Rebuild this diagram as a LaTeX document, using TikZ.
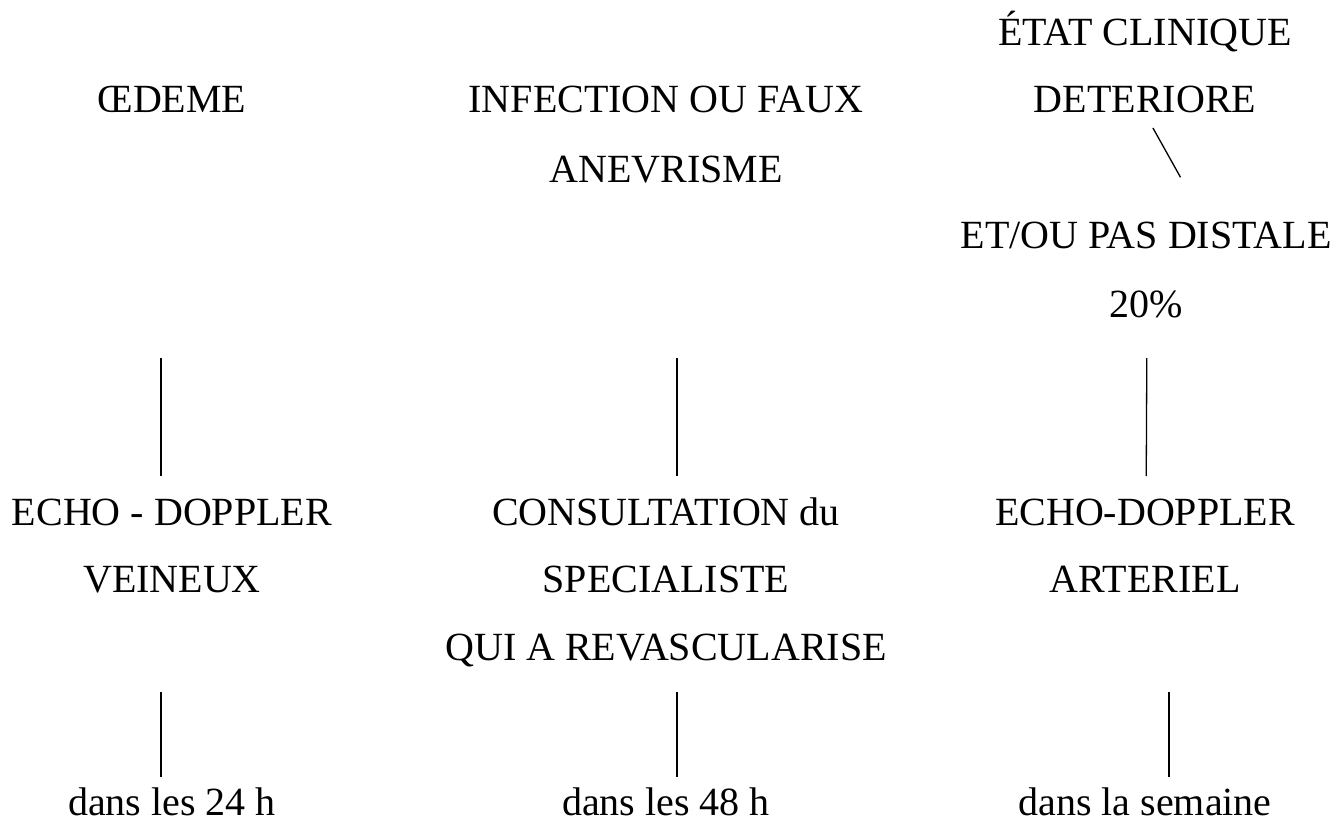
\documentclass[tikz,border=0pt]{standalone}
\usepackage{fontspec}
\setmainfont{Liberation Serif}
\usetikzlibrary{positioning}

\begin{document}
\begin{tikzpicture}[x=1pt, y=-1pt, every node/.style={anchor=base, inner sep=0pt, font=\fontsize{40}{48}\selectfont}, trait/.style={line width=1.3pt}]
\useasboundingbox (0,0) rectangle (1338,825);

\node (oedeme) at (172,112) {ŒDEME};
\node (infect) at (666,112) {INFECTION OU FAUX};
\node (anevr) at (666,182) {ANEVRISME};
\node (etat) at (1145,45) {ÉTAT CLINIQUE};
\node (deter) at (1145,112) {DETERIORE};
\node (pas) at (1146,248) {ET/OU PAS DISTALE};
\node (pct) at (1146,317) {20\%};

\node (echoV) at (172,525) {ECHO - DOPPLER};
\node (veineux) at (172,592) {VEINEUX};
\node (consult) at (666,525) {CONSULTATION du};
\node (spec) at (666,592) {SPECIALISTE};
\node (revasc) at (666,660) {QUI A REVASCULARISE};
\node (echoA) at (1145,525) {ECHO-DOPPLER};
\node (arter) at (1145,592) {ARTERIEL};

\node (d24) at (172,815) {dans les 24 h};
\node (d48) at (666,815) {dans les 48 h};
\node (dsem) at (1145,815) {dans la semaine};

\draw[trait, shorten <=18.3pt, shorten >=81pt] ([xshift=-1pt]deter.base) -- ([xshift=74pt]pas.base);

\draw[trait, shorten <=246pt, shorten >=49pt] ([xshift=-11pt]oedeme.base) -- ([xshift=-11pt]echoV.base);
\draw[trait, shorten <=176pt, shorten >=49pt] ([xshift=11pt]anevr.base) -- ([xshift=11pt]consult.base);
\draw[trait, shorten <=41pt, shorten >=49pt] ([xshift=1pt]pct.base) -- ([xshift=1pt]echoA.base);

\draw[trait, shorten <=100pt, shorten >=38pt] ([xshift=-11pt]veineux.base) -- ([xshift=-11pt]d24.base);
\draw[trait, shorten <=32pt, shorten >=38pt] ([xshift=11pt]revasc.base) -- ([xshift=11pt]d48.base);
\draw[trait, shorten <=100pt, shorten >=38pt] ([xshift=24pt]arter.base) -- ([xshift=24pt]dsem.base);
\end{tikzpicture}
\end{document}
